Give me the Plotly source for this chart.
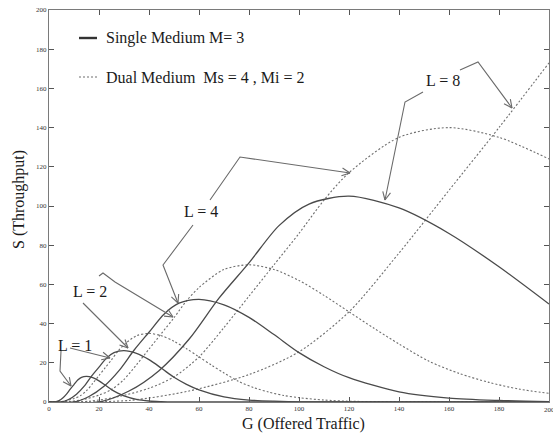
import math
import plotly.graph_objects as go

# ---------------- data ----------------
single_L1_G = [0, 2.5, 4, 5.5, 7, 8.5, 10, 11.5, 13, 15, 17.5, 20, 22.5, 25, 27.5, 30, 35, 40, 45, 50, 60, 200]
single_L1_S = [0, 0, 0.7, 2.0, 4.0, 6.6, 8.9, 11.2, 12.6, 13.1, 12.4, 10.8, 8.6, 6.3, 4.5, 3.1, 1.3, 0.5, 0.2, 0.05, 0, 0]

single_L2_G = [0, 5, 8, 11, 14, 17, 20, 23, 26, 30, 35, 40, 45, 50, 55, 60, 70, 80, 90, 100, 120, 200]
single_L2_S = [0, 0, 1.4, 4.0, 8.0, 13.2, 17.8, 22.4, 25.2, 26.2, 24.8, 21.6, 17.2, 12.6, 9.0, 6.2, 2.6, 1.0, 0.4, 0.1, 0, 0]

single_L4_G = [0, 10, 16, 22, 28, 34, 40, 46, 52, 60, 70, 80, 90, 100, 110, 120, 140, 160, 180, 200]
single_L4_S = [0, 0, 2.8, 8.0, 16.0, 26.4, 35.6, 44.8, 50.4, 52.4, 49.6, 43.2, 34.4, 25.2, 18.0, 12.4, 5.2, 2.0, 0.8, 0.2]

single_L8_G = [0, 20, 32, 44, 56, 68, 80, 92, 104, 120, 140, 160, 180, 200]
single_L8_S = [0, 0, 5.6, 16, 32, 53, 71, 90, 101, 105, 99, 86, 69, 50]

dual_L1_G = [0, 4, 7, 10, 12.5, 15, 17.5, 20, 22.5, 25, 27.5, 30, 35, 40, 45, 50, 55, 60, 65, 70, 76, 82, 88, 94, 100, 110, 120, 140, 200]
dual_L1_S = [0, 0.1, 0.7, 1.75, 3.2, 5.75, 9.5, 13.5, 17.5, 21.5, 25.8, 29.2, 33.8, 35, 33.8, 31, 27.2, 23, 18.8, 14.8, 10.4, 7.3, 5.0, 3.3, 2.2, 1.0, 0.4, 0.1, 0]

dual_L2_G = [0, 8, 14, 20, 25, 30, 35, 40, 45, 50, 55, 60, 70, 80, 90, 100, 110, 120, 130, 140, 152, 164, 176, 188, 200]
dual_L2_S = [0, 0.2, 1.4, 3.5, 6.4, 11.5, 19, 27, 35, 43, 51.6, 58.4, 67.6, 70, 67.6, 62, 54.4, 46, 37.6, 29.6, 20.8, 14.6, 10, 6.6, 4.4]

dual_L4_G = [0, 16, 28, 40, 50, 60, 70, 80, 90, 100, 110, 120, 140, 160, 180, 200]
dual_L4_S = [0, 0.4, 2.8, 7, 12.8, 23, 38, 54, 70, 86, 103, 117, 135, 140, 135, 124]

dual_L8_G = [0, 32, 56, 80, 100, 120, 140, 160, 180, 200]
dual_L8_S = [0, 0.8, 5.6, 14, 25.6, 46, 76, 108, 140, 173]

tick_vals = [0, 20, 40, 60, 80, 100, 120, 140, 160, 180, 200]
tick_text = ["0", "20", "40", "60", "80", "100", "120", "140", "160", "180", "200"]

x_title = "G (Offered Traffic)"
y_title = "S (Throughput)"
legend_single = "Single Medium M= 3"
legend_dual = "Dual Medium\u00a0 Ms = 4 , Mi = 2"

# ---------------- styling ----------------
W, H = 553, 434
ML, MR, MT, MB = 49, 4, 10, 32
PW, PH = W - ML - MR, H - MT - MB
SERIF = "Liberation Serif"
SOLID_C = "#4a4a4a"
DOT_C = "#6e6e6e"
ARROW_C = "#6a6a6a"

fig = go.Figure()

single = [("Single L=1", single_L1_G, single_L1_S), ("Single L=2", single_L2_G, single_L2_S),
          ("Single L=4", single_L4_G, single_L4_S), ("Single L=8", single_L8_G, single_L8_S)]
dual = [("Dual L=1", dual_L1_G, dual_L1_S), ("Dual L=2", dual_L2_G, dual_L2_S),
        ("Dual L=4", dual_L4_G, dual_L4_S), ("Dual L=8", dual_L8_G, dual_L8_S)]

for name, g, s in dual:
    fig.add_trace(go.Scatter(x=g, y=s, mode="lines", name=name, showlegend=False,
                             line=dict(color=DOT_C, width=1.1, dash="2px,2px", shape="spline", smoothing=0.8),
                             hoverinfo="skip"))
for name, g, s in single:
    fig.add_trace(go.Scatter(x=g, y=s, mode="lines", name=name, showlegend=False,
                             line=dict(color=SOLID_C, width=1.3, shape="spline", smoothing=0.8),
                             hoverinfo="skip"))


def px2d(px, py):
    return ((px - ML) / PW * 200.0, (MT + PH - py) / PH * 200.0)


def px2p(px, py):
    return ((px - ML) / PW, (MT + PH - py) / PH)


shapes = []


def polyline(points, head=True):
    pts = [px2d(*p) for p in points]
    path = "M " + " L ".join(f"{x:.3f},{y:.3f}" for x, y in pts)
    shapes.append(dict(type="path", path=path, xref="x", yref="y",
                       line=dict(color=ARROW_C, width=1.1), layer="above"))
    if head:
        (x0, y0), (x1, y1) = points[-2], points[-1]
        ang = math.atan2(y0 - y1, x0 - x1)
        for d in (0.45, -0.45):
            wx = x1 + 9 * math.cos(ang + d)
            wy = y1 + 9 * math.sin(ang + d)
            a = px2d(x1, y1)
            b = px2d(wx, wy)
            shapes.append(dict(type="line", xref="x", yref="y", x0=a[0], y0=a[1], x1=b[0], y1=b[1],
                               line=dict(color=ARROW_C, width=1.1), layer="above"))


# annotation pointers (pixel positions of the callout lines)
polyline([(61, 351), (60, 371), (71, 386)])
polyline([(70, 348), (110, 358)])
polyline([(83, 303), (128, 348)])
polyline([(99, 276), (103, 273), (115, 282), (173, 317)])
polyline([(193, 225), (163, 265), (178, 303)])
polyline([(210, 200), (240, 157), (350, 173)])
polyline([(423, 92), (405, 102), (385, 200)])
polyline([(460, 70), (478, 62), (512, 108)])

# legend samples
for py, dash, w, c in [(38, "solid", 2.4, "#333333"), (77, "2px,2px", 1.2, DOT_C)]:
    a = px2p(79, py)
    b = px2p(97, py)
    shapes.append(dict(type="line", xref="paper", yref="paper", x0=a[0], y0=a[1], x1=b[0], y1=b[1],
                       line=dict(color=c, width=w, dash=dash)))

annotations = []


def label(text, px, py, size=16, xanchor="center", angle=0, color="#1a1a1a"):
    xp, yp = px2p(px, py)
    annotations.append(dict(text=text, x=xp, y=yp, xref="paper", yref="paper", showarrow=False,
                            xanchor=xanchor, yanchor="middle", textangle=angle,
                            font=dict(family=SERIF, size=size, color=color)))


label("L = 1", 75, 345)
label("L = 2", 90, 291)
label("L = 4", 201, 211)
label("L = 8", 443, 80)
label(legend_single, 104, 38, xanchor="left")
label(legend_dual, 104, 77, xanchor="left")
label(x_title, 303, 424)
label(y_title, 19, 200, angle=-90)
# last x tick label, partly cut by the right edge as in the reference
label(tick_text[-1], 549, 410, size=7, color="#333333")

axis_common = dict(range=[0, 200], tickvals=tick_vals, ticktext=tick_text, ticks="inside", ticklen=5,
                   tickcolor="#555555", showline=True, linecolor="#7a7a7a", linewidth=1, mirror="ticks",
                   showgrid=False, zeroline=False,
                   tickfont=dict(family=SERIF, size=7, color="#333333"))

fig.update_layout(
    width=W, height=H,
    margin=dict(l=ML, r=MR, t=MT, b=MB),
    paper_bgcolor="white", plot_bgcolor="white",
    font=dict(family=SERIF),
    xaxis=dict(**axis_common),
    yaxis=dict(**axis_common),
    shapes=shapes,
    annotations=annotations,
    showlegend=False,
)

fig.write_html("out.html", config={"displayModeBar": False},
               post_script="document.body.style.margin='0px';document.body.style.overflow='hidden';")
